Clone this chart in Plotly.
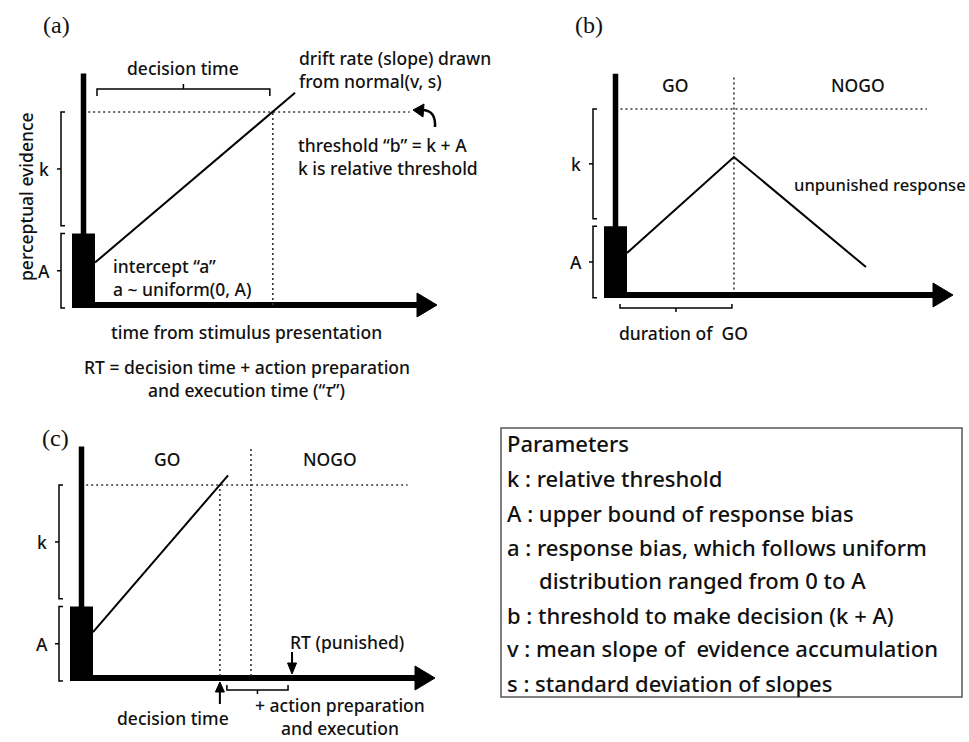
import plotly.graph_objects as go

W, H = 969, 742

# ---------------- data (model units: threshold b = k + A = 1, time axis ends at 10) -------------
A_bound = 0.37          # upper bound of response bias
threshold_b = 1.0       # b = k + A
t_axis_end = 10.0
threshold_line_t = [-0.2, 9.2]

# panel (a)
a_drift_t = [0.0, 5.85]
a_drift_e = [0.22, 1.10]
a_decision_time = 5.2
a_axis_top = 1.20

# panel (b)
b_path_t = [0.0, 3.28, 7.33]
b_path_e = [0.226, 0.742, 0.15]
b_go_end = 3.28
b_axis_top = 1.19
b_go_line_top = 1.18

# panel (c)
c_drift_t = [0.0, 3.95]
c_drift_e = [0.238, 1.05]
c_decision_time = 3.71
c_go_end = 4.62
c_rt_punished = 5.82
c_axis_top = 1.20
c_go_line_top = 1.19

param_lines = [
    "Parameters",
    "k : relative threshold",
    "A : upper bound of response bias",
    "a : response bias, which follows uniform",
    "distribution ranged from 0 to A",
    "b : threshold to make decision (k + A)",
    "v : mean slope of  evidence accumulation",
    "s : standard deviation of slopes",
]
param_indent = [0, 0, 0, 0, 1, 0, 0, 0]

# ---------------- layout of the three panels (pixel geometry) ----------------
panels = {
    "a": dict(ox=95, oy=305, sx=34.2, sy=193, box=(0, 0, 480, 380), xa="x", ya="y"),
    "b": dict(ox=627, oy=295, sx=32.6, sy=186, box=(480, 0, W, 380), xa="x2", ya="y2"),
    "c": dict(ox=93, oy=678, sx=34.2, sy=193, box=(0, 380, 480, H), xa="x3", ya="y3"),
}

FONT = "Noto Sans"
TXT = "#111111"
FS = 17.5

fig = go.Figure()
shapes = []
annotations = []


def paper_x(px):
    return px / W


def paper_y(py):
    return 1 - py / H


def px2t(p, px):
    return (px - p["ox"]) / p["sx"]


def py2e(p, py):
    return (p["oy"] - py) / p["sy"]


def t2px(p, t):
    return p["ox"] + t * p["sx"]


def e2py(p, e):
    return p["oy"] - e * p["sy"]


def line(p, ts, es, width=2, color="black", dash=None):
    fig.add_trace(go.Scatter(
        x=ts, y=es, mode="lines", xaxis=p["xa"], yaxis=p["ya"],
        line=dict(color=color, width=width, dash=dash),
        hoverinfo="skip", showlegend=False))


def line_px(p, pxs, pys, width=1.5, color="black", dash=None):
    line(p, [px2t(p, v) for v in pxs], [py2e(p, v) for v in pys], width, color, dash)


def poly_px(p, pxs, pys):
    fig.add_trace(go.Scatter(
        x=[px2t(p, v) for v in pxs], y=[py2e(p, v) for v in pys],
        mode="lines", fill="toself", fillcolor="black",
        xaxis=p["xa"], yaxis=p["ya"], line=dict(color="black", width=1),
        hoverinfo="skip", showlegend=False))


def text(x, y, s, size=FS, xanchor="center", angle=0, family=FONT, color=TXT, weight=500,
         align="center"):
    annotations.append(dict(
        x=paper_x(x), y=paper_y(y), xref="paper", yref="paper", text=s, showarrow=False,
        xanchor=xanchor, yanchor="middle", textangle=angle, align=align,
        font=dict(family=family, size=size, color=color, weight=weight)))


DOT = "2px,3px"
DOTC = "#333"


def frame(p, axis_top):
    """accumulator axes: black start box, vertical bar, time arrow, threshold, k/A brackets"""
    ox, oy = p["ox"], p["oy"]
    shapes.append(dict(type="rect", xref=p["xa"], yref=p["ya"],
                       x0=px2t(p, ox - 23), x1=0, y0=py2e(p, oy + 3), y1=A_bound,
                       fillcolor="black", line=dict(width=0)))
    xb = px2t(p, ox - 11.5)
    line(p, [xb, xb], [0, axis_top], width=5.5)
    line(p, [px2t(p, ox - 23), t_axis_end - 16 / p["sx"]], [0, 0], width=6)
    tip = t2px(p, t_axis_end)
    poly_px(p, [tip - 20, tip, tip - 20, tip - 20], [oy - 12, oy, oy + 12, oy - 12])
    line(p, threshold_line_t, [threshold_b, threshold_b], width=1.6, color=DOTC, dash=DOT)
    bx = ox - 34
    for lo, hi, lab in [(A_bound + 0.04, threshold_b, "k"), (-0.015, A_bound, "A")]:
        ylo, yhi = e2py(p, lo), e2py(p, hi)
        line_px(p, [bx + 4, bx, bx, bx + 4], [yhi, yhi, ylo, ylo], width=1.5)
        mid = (ylo + yhi) / 2
        line_px(p, [bx, bx - 4], [mid, mid], width=1.5)
        text(bx - 17, mid, lab)


def hbracket(p, px0, px1, py, end_dy, tick_dy):
    line_px(p, [px0, px0, px1, px1], [py + end_dy, py, py, py + end_dy], width=1.5)
    mid = (px0 + px1) / 2
    line_px(p, [mid, mid], [py, py + tick_dy], width=1.5)


# ---------------- panel (a) ----------------
pa = panels["a"]
frame(pa, a_axis_top)
line(pa, [a_decision_time, a_decision_time], [0, threshold_b], width=1.6, color=DOTC, dash=DOT)
line(pa, a_drift_t, a_drift_e, width=2)
hbracket(pa, t2px(pa, 0) + 2, t2px(pa, a_decision_time) - 3, 89, 7, -5)
shapes.append(dict(type="path", xref="paper", yref="paper",
                   path=(f"M {paper_x(435)},{paper_y(127)} Q {paper_x(436)},{paper_y(110)} "
                         f"{paper_x(422)},{paper_y(110)}"),
                   line=dict(color="black", width=2.5)))
poly_px(pa, [413, 424, 423, 413], [110, 104, 117, 110])

text(56, 25, "(a)", size=24, family="Liberation Serif", weight=400)
text(183, 68, "decision time")
text(297, 70, "drift rate (slope) drawn<br>from normal(v, s)", xanchor="left", align="left")
text(296, 145, "threshold “b” = k + A", xanchor="left")
text(296, 168, "k is relative threshold", xanchor="left")
text(111, 277, "intercept “a”<br>a ~ uniform(0, A)", xanchor="left", align="left")
text(247, 332, "time from stimulus presentation")
text(247, 367, "RT = decision time + action preparation")
text(246, 390, "and execution time (“<i>τ</i>”)")
text(26, 197, "perceptual evidence", angle=-90)

# ---------------- panel (b) ----------------
pb = panels["b"]
frame(pb, b_axis_top)
line(pb, [b_go_end, b_go_end], [0.03, b_go_line_top], width=1.6, color=DOTC, dash=DOT)
line(pb, b_path_t, b_path_e, width=2)
hbracket(pb, t2px(pb, 0) - 7, t2px(pb, b_go_end) - 2, 308, -4, 4)
text(589, 25, "(b)", size=24, family="Liberation Serif", weight=400)
text(675, 85, "GO")
text(858, 85, "NOGO")
text(792, 185, "unpunished response", xanchor="left", size=16.6)
text(683, 333, "duration of  GO")

# ---------------- panel (c) ----------------
pc = panels["c"]
frame(pc, c_axis_top)
line(pc, [c_decision_time, c_decision_time], [0.01, threshold_b], width=1.6, color=DOTC, dash=DOT)
line(pc, [c_go_end, c_go_end], [0.01, c_go_line_top], width=1.6, color=DOTC, dash=DOT)
line(pc, c_drift_t, c_drift_e, width=2)
xd = t2px(pc, c_decision_time)
line_px(pc, [xd, xd], [704, 690], width=2)
poly_px(pc, [xd - 4.5, xd, xd + 4.5, xd - 4.5], [692, 682, 692, 692])
xr = t2px(pc, c_rt_punished)
line_px(pc, [xr, xr], [652, 664], width=2)
poly_px(pc, [xr - 4.5, xr, xr + 4.5, xr - 4.5], [663, 674, 663, 663])
hbracket(pc, t2px(pc, c_decision_time) + 7, xr - 4, 690, -5, 4)
text(55, 438, "(c)", size=24, family="Liberation Serif", weight=400)
text(167, 459, "GO")
text(330, 459, "NOGO")
text(347, 642, "RT (punished)")
text(173, 718, "decision time")
text(340, 716, "+ action preparation<br>and execution")

# ---------------- parameter box ----------------
shapes.append(dict(type="rect", xref="paper", yref="paper",
                   x0=paper_x(501), x1=paper_x(962), y0=paper_y(697), y1=paper_y(428),
                   line=dict(color="#555", width=1.5), fillcolor="rgba(0,0,0,0)"))
row_y = [443, 478, 513, 547, 580, 615, 648, 683]
for s, ind, yy in zip(param_lines, param_indent, row_y):
    text(505 + 32 * ind, yy, s, size=22, xanchor="left")

# ---------------- axes ----------------
layout_axes = {}
for i, key in enumerate(["a", "b", "c"]):
    p = panels[key]
    X0, Y0, X1, Y1 = p["box"]
    suf = "" if i == 0 else str(i + 1)
    layout_axes["xaxis" + suf] = dict(
        domain=[paper_x(X0), paper_x(X1)], range=[px2t(p, X0), px2t(p, X1)],
        visible=False, fixedrange=True, anchor=p["ya"])
    layout_axes["yaxis" + suf] = dict(
        domain=[paper_y(Y1), paper_y(Y0)], range=[py2e(p, Y1), py2e(p, Y0)],
        visible=False, fixedrange=True, anchor=p["xa"])

fig.update_layout(
    width=W, height=H, autosize=False,
    margin=dict(l=0, r=0, t=0, b=0, pad=0),
    paper_bgcolor="white", plot_bgcolor="rgba(0,0,0,0)",
    shapes=shapes, annotations=annotations, **layout_axes)

fig.write_html(
    "out.html", config={"displayModeBar": False},
    post_script="document.body.style.margin='0';document.body.style.overflow='hidden';")
